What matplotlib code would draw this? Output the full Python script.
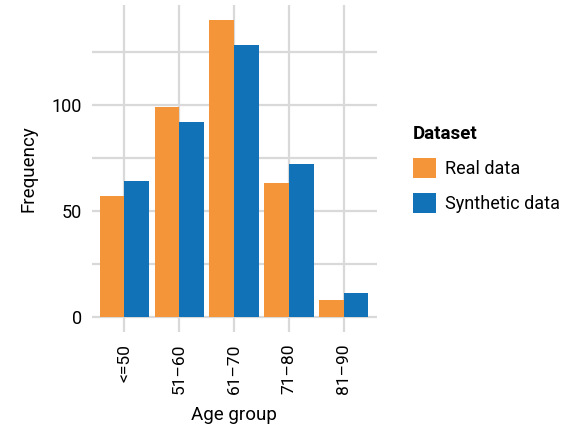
import numpy as np
import matplotlib
matplotlib.use("Agg")
import matplotlib.pyplot as plt
from matplotlib.patches import Patch

plt.rcParams['font.family'] = ['Roboto', 'DejaVu Sans']

# data
age_groups = ['<=50', '51\u201360', '61\u201370', '71\u201380', '81\u201390']
real_data = [57, 99, 140, 63, 8]
synthetic_data = [64, 92, 128, 72, 11]
series_names = ['Real data', 'Synthetic data']

orange = '#F5953A'
blue = '#1172B8'
grid_col = '#D9D9D9'

fig = plt.figure(figsize=(5.83, 4.25), dpi=100)
ax = fig.add_axes([0.157, 0.22, 0.489, 0.768])

x = np.arange(len(age_groups))
w = 0.45
ax.bar(x - w / 2, real_data, width=w, color=orange, zorder=3)
ax.bar(x + w / 2, synthetic_data, width=w, color=blue, zorder=3)

# ggplot style expansion
ymax = max(max(real_data), max(synthetic_data))
ax.set_ylim(-0.05 * ymax, 1.05 * ymax)
ax.set_xlim(-0.6, len(age_groups) - 0.4)

ax.set_yticks([0, 50, 100])
ax.set_yticks([25, 75, 125], minor=True)
ax.set_xticks(x)
ax.set_xticklabels(age_groups, rotation=90, fontsize=12.5)
ax.tick_params(axis='y', labelsize=13, length=0, pad=7, which='both')
ax.tick_params(axis='x', length=0, pad=9)

ax.grid(True, which='both', color=grid_col, linewidth=1.6, zorder=0)
for s in ax.spines.values():
    s.set_visible(False)

ax.set_xlabel('Age group', fontsize=13.5, labelpad=8)
ax.set_ylabel('Frequency', fontsize=13.5, labelpad=10)

handles = [Patch(facecolor=orange, label=series_names[0]),
           Patch(facecolor=blue, label=series_names[1])]
leg = fig.legend(handles=handles, title='Dataset', loc='upper left',
                 bbox_to_anchor=(0.68, 0.745), frameon=False, fontsize=13,
                 title_fontsize=13.5, handlelength=1.3, handleheight=1.3,
                 handletextpad=0.5, labelspacing=0.85, alignment='left')
leg.get_title().set_fontweight('bold')

fig.savefig('out.png', dpi=100, facecolor='white')
